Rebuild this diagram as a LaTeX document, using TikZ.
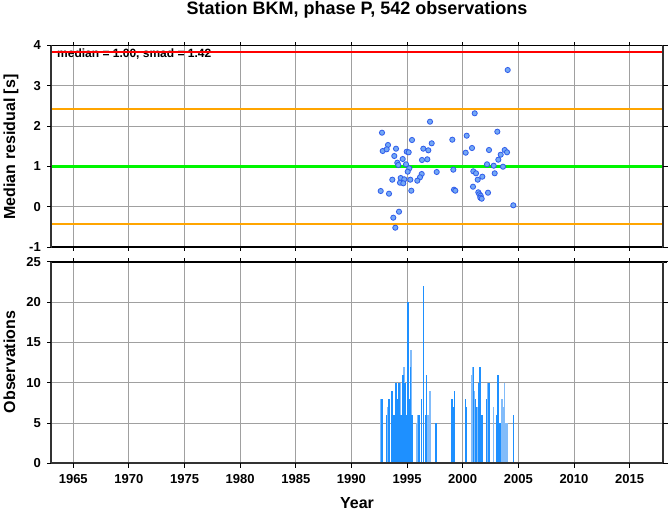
\documentclass[tikz,border=0pt]{standalone}
\usepackage{fontspec}
\setmainfont{Liberation Sans}
\definecolor{gridc}{RGB}{160,160,160}
\definecolor{framec}{RGB}{50,50,50}
\definecolor{ptfill}{RGB}{115,168,245}
\definecolor{ptdraw}{RGB}{45,90,235}
\definecolor{bardark}{RGB}{30,144,255}
\definecolor{barlight}{RGB}{130,188,250}
\definecolor{orangeln}{RGB}{255,165,0}
\definecolor{greenln}{RGB}{0,245,0}
\tikzset{
  gridline/.style={draw=gridc, line width=0.9pt},
  thickaxis/.style={draw=framec, line width=2pt},
  thinaxis/.style={draw=black, line width=1.1pt},
  tickmark/.style={draw=black, line width=0.9pt},
  ptmark/.style={fill=ptfill, draw=ptdraw, line width=0.8pt},
  ticklab/.style={font=\fontsize{13}{15}\selectfont\bfseries, inner sep=0pt},
  axlab/.style={font=\fontsize{16}{18}\selectfont\bfseries, inner sep=0pt},
}
\begin{document}
\begin{tikzpicture}[x=1pt,y=-1pt]
\useasboundingbox (0,0) rectangle (669,511);
\fill[white] (0,0) rectangle (669,511);

% ---------- grid ----------
\foreach \yr in {1965,1970,...,2015} {
  \pgfmathsetmacro\xx{51+(\yr-1963)*11.127}
  \draw[gridline] (\xx,45.5) -- (\xx,247);
  \draw[gridline] (\xx,262) -- (\xx,463.3);
}
\foreach \v in {0,1,2,3} {
  \pgfmathsetmacro\yy{206.7-\v*40.3}
  \draw[gridline] (51,\yy) -- (663,\yy);
}
\foreach \c in {5,10,15,20} {
  \pgfmathsetmacro\yy{463.3-\c*8.06}
  \draw[gridline] (51,\yy) -- (663,\yy);
}

% ---------- statistics text and lines ----------
\node[font=\fontsize{12}{14}\selectfont\bfseries, anchor=base west, inner sep=0pt] (stat) at (57,57.5) {median = 1.00, smad = 1.42};
\draw[red, line width=2.2pt] (51,52.2) -- (663,52.2);
\draw[orangeln, line width=2pt] (51,109.2) -- (663,109.2);
\draw[orangeln, line width=2pt] (51,223.6) -- (663,223.6);
\draw[greenln, line width=3.3pt] (51,166.4) -- (663,166.4);

% ---------- points ----------
\foreach \px/\py in {
507.7/70, 474.7/113.3, 430/121.7, 382/132.7, 497.3/131.7, 466.7/135.7,
412/140, 452.3/139.7, 431.7/143.3, 388/145, 382.7/151, 386.7/149.3,
396/148.7, 423.3/148.7, 428.3/150.3, 406.7/151.7, 408.7/152.3, 472/148,
465.7/152.7, 489/150, 504.7/150, 507/152.3, 500.7/154.7, 394.3/156,
402.7/159, 422/160, 427.3/159.3, 498.3/159.7, 397.3/162.7, 398.3/165,
406/164.3, 487/164.3, 493.7/165.7, 503/166.7, 409.3/168.3, 453.3/169.7,
407.7/171.7, 436.7/172, 473.3/171.3, 476/173.3, 494.7/173.3, 421.7/174,
420/177.3, 482.3/176.7, 392.3/179.7, 400.7/178, 404.3/179.3, 410.3/179.7,
417.3/180.7, 477.7/179.7, 400/182.7, 403.3/183.3, 473/186.7, 380.7/191,
389/193.7, 411.3/190.7, 454/189.7, 455.3/190.7, 478.3/192.3, 479.3/194.3,
480.7/195.7, 480.3/197.7, 481.7/198.7, 488/192.7, 513.3/205.3, 399/211.7,
393.3/217.7, 395.3/227.7} {
  \draw[ptmark] (\px,\py) circle[radius=2.6pt];
}

% ---------- histogram ----------
\foreach \bx/\c in {
380.5/8, 387.5/7, 398/6, 400/10, 404/12, 411/14, 416.5/5, 417.5/6, 428/6, 430/9,
471.5/11, 472.5/12, 474.5/9, 477.5/7, 488/10, 493.3/7, 502/8, 503.5/7, 504.5/10,
506/5, 507.5/5} {
  \fill[barlight] ({\bx-0.6},463.3) rectangle ({\bx+0.6},{463.3-\c*8.06});
}
\foreach \bx/\c in {
382/8, 386.5/6, 389/8, 392/9, 393/5, 394/6, 395/6, 396/10, 397/8, 399/10,
401/6, 402/6, 403/11, 405/10, 406/6, 407.5/20, 408.5/20, 409.5/8, 410.5/12,
412/6, 419/6, 421.5/8, 423.5/22, 425.5/6, 426.5/11, 436/5,
452/8, 453.5/7, 454.7/9, 465.3/8, 466.3/7, 473.3/12, 475.3/8, 476.5/7,
478.3/10, 480/12, 481.5/6, 482.5/6, 486.7/8, 489/10, 497/6, 498/11, 500/5,
513.3/6} {
  \fill[bardark] ({\bx-0.6},463.3) rectangle ({\bx+0.6},{463.3-\c*8.06});
}

% ---------- frames ----------
% upper panel
\draw[thinaxis] (50,45.5) -- (667,45.5);
\draw[thinaxis] (50,247) -- (664,247);
\draw[thickaxis] (51,45) -- (51,248);
\draw[thickaxis] (663,45) -- (663,248);
% lower panel
\draw[thinaxis] (50,262) -- (667,262);
\draw[thickaxis] (50,463.3) -- (664,463.3);
\draw[thickaxis] (51,261.5) -- (51,464.3);
\draw[thickaxis] (663,261.5) -- (663,464.3);

% ticks on x
\foreach \yr in {1965,1970,...,2015} {
  \pgfmathsetmacro\xx{51+(\yr-1963)*11.127}
  \draw[tickmark] (\xx,45.5) -- (\xx,42);
  \draw[tickmark] (\xx,247) -- (\xx,250.5);
  \draw[tickmark] (\xx,262) -- (\xx,258);
  \draw[tickmark] (\xx,463.3) -- (\xx,467.5);
  \node[ticklab, anchor=base] (yr\yr) at (\xx,483.3) {\yr};
}
% ticks and labels on y, upper
\foreach \v in {-1,0,1,2,3,4} {
  \pgfmathsetmacro\yy{206.7-\v*40.3}
  \draw[tickmark] (51,\yy) -- (46.5,\yy);
  \draw[tickmark] (663,\yy) -- (667.5,\yy);
  \node[ticklab, anchor=east] (ru\v) at (41,\yy) {\v};
}
% ticks and labels on y, lower
\foreach \c in {0,5,10,15,20,25} {
  \pgfmathsetmacro\yy{463.3-\c*8.06}
  \draw[tickmark] (51,\yy) -- (46.5,\yy);
  \draw[tickmark] (663,\yy) -- (667.5,\yy);
  \node[ticklab, anchor=east] (ob\c) at (41,\yy) {\c};
}

% ---------- titles ----------
\node[font=\fontsize{18}{20}\selectfont\bfseries, anchor=base, inner sep=0pt] (title) at (357,15) {Station BKM, phase P, 542 observations};
\node[axlab, rotate=90, anchor=base] (ylabu) at (15,147) {Median residual [s]};
\node[axlab, rotate=90, anchor=base] (ylabl) at (15,362) {Observations};
\node[axlab, anchor=base] (xlab) at (357,508) {Year};
\end{tikzpicture}
\end{document}
